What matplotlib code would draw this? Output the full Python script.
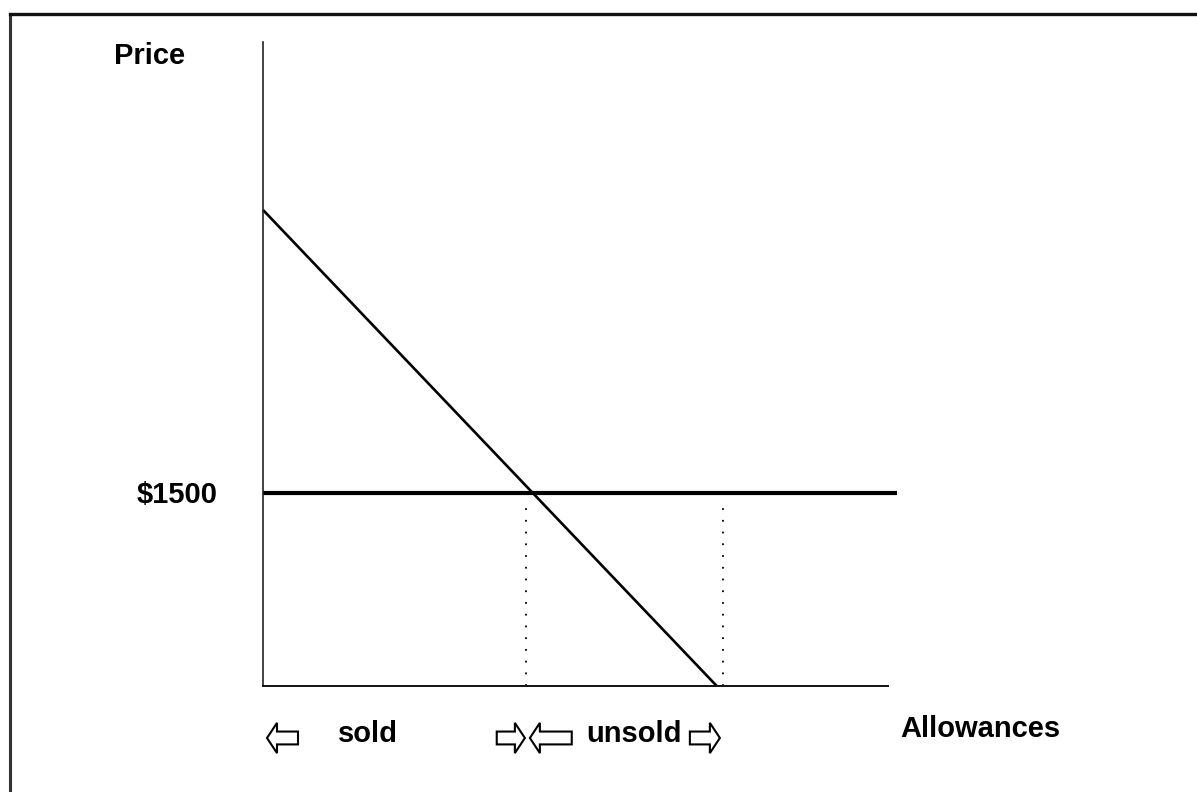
import matplotlib
matplotlib.use("Agg")
import matplotlib.pyplot as plt
from matplotlib.patches import FancyArrow
from matplotlib.lines import Line2D

# ---- data (quantity of allowances 0..100, price in $) ----
q_limits = [0, 100]
price_limits = [0, 5005]
demand_q = [0, 72.6]
demand_price = [3700, 0]
reserve_price = 1500
reserve_q = [0, 101.4]
sold_q = 42.1
offered_q = 73.6
price_label = "$1500"
x_label = "Allowances"
y_label = "Price"
region_labels = ["sold", "unsold"]
region_label_q = [16.8, 59.4]
# arrows: (tail_q, tip_q)
arrows = [(5.6, 0.64), (37.4, 41.9), (49.4, 42.7), (68.3, 73.1)]

plt.rcParams['font.family'] = ['Liberation Sans', 'DejaVu Sans']

W, H = 1197, 792
fig = plt.figure(figsize=(W / 100, H / 100), dpi=100)
fig.patch.set_facecolor("white")

# outer frame (left and top edges)
fig.add_artist(Line2D([10 / W, 10 / W], [0, 1 - 14 / H], transform=fig.transFigure,
                      color="#333333", lw=2.2))
fig.add_artist(Line2D([10 / W, 1], [1 - 14 / H, 1 - 14 / H], transform=fig.transFigure,
                      color="#111111", lw=2.4))

ax = fig.add_axes([263 / W, (H - 686) / H, 625 / W, 644 / H])
ax.set_xlim(*q_limits)
ax.set_ylim(*price_limits)
for s in ["top", "right"]:
    ax.spines[s].set_visible(False)
ax.spines["left"].set_color("#222222")
ax.spines["bottom"].set_color("#111111")
ax.spines["left"].set_linewidth(1.2)
ax.spines["bottom"].set_linewidth(1.4)
ax.set_xticks([])
ax.set_yticks([])
ax.patch.set_alpha(0)

# demand line
ax.plot(demand_q, demand_price, color="black", lw=1.9, clip_on=False, solid_capstyle="butt")
# reserve price line
ax.plot(reserve_q, [reserve_price, reserve_price], color="black", lw=3.0, clip_on=False,
        solid_capstyle="butt")
# dotted verticals
for q in [sold_q, offered_q]:
    ax.plot([q, q], [0, reserve_price - 60], color="black", lw=1.3,
            linestyle=(0, (1, 5.5)), clip_on=False)

fs = 21
ax.text(-18.2, 4900, y_label, ha="center", va="center", fontsize=fs, fontweight="bold",
        clip_on=False)
ax.text(-7.2, reserve_price - 15, price_label, ha="right", va="center", fontsize=fs,
        fontweight="bold", clip_on=False)
ax.text(101.9, -334, x_label, ha="left", va="center", fontsize=fs, fontweight="bold",
        clip_on=False)
for lbl, q in zip(region_labels, region_label_q):
    ax.text(q, -375, lbl, ha="center", va="center", fontsize=fs, fontweight="bold",
            clip_on=False)

arrow_y = -404
for tail, tip in arrows:
    a = FancyArrow(tail, arrow_y, tip - tail, 0, width=100, head_width=235,
                   head_length=1.6, length_includes_head=True,
                   facecolor="white", edgecolor="black", lw=1.5, clip_on=False)
    ax.add_patch(a)

fig.savefig("out.png", dpi=100, facecolor="white")
